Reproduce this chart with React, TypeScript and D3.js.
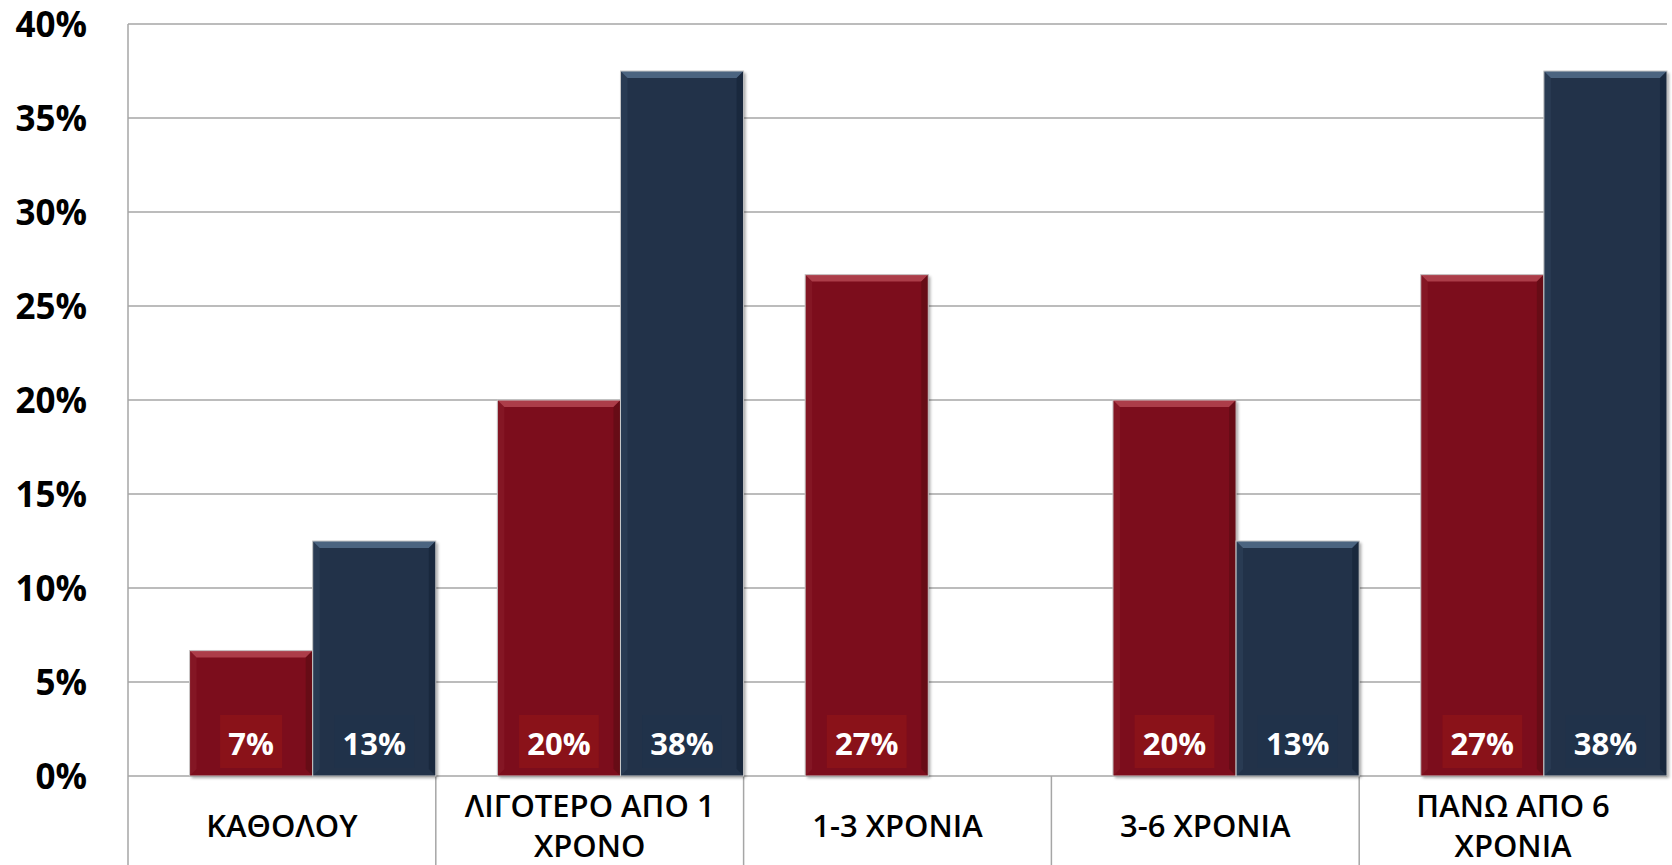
import React from "react";
import * as d3 from "d3";

const width = 1672;
const height = 865;
const margin = { top: 24, right: 5, bottom: 89, left: 128 };

const categories = [
  ["ΚΑΘΟΛΟΥ"],
  ["ΛΙΓΟΤΕΡΟ ΑΠΟ 1", "ΧΡΟΝΟ"],
  ["1-3 ΧΡΟΝΙΑ"],
  ["3-6 ΧΡΟΝΙΑ"],
  ["ΠΑΝΩ ΑΠΟ 6", "ΧΡΟΝΙΑ"],
];
const seriesA = [6.67, 20, 26.67, 20, 26.67];
const seriesB = [12.5, 37.5, null, 12.5, 37.5];
const yTicks = [0, 5, 10, 15, 20, 25, 30, 35, 40];

const series = [
  { key: "a", values: seriesA, fill: "#7c111a", labelBg: "#8a1219", light: "#b84a55", dark: "#5a0b12" },
  { key: "b", values: seriesB, fill: "#20324a", labelBg: "#20324a", light: "#56708f", dark: "#142235" },
];

const font = "'Open Sans', 'DejaVu Sans', sans-serif";

// rough glyph widths of Open Sans bold, for the label boxes
const labelWidth = (s: string, size: number) =>
  s.split("").reduce((w, c) => w + (c === "%" ? 0.88 : 0.572) * size, 0);

export default function App() {
  const catKeys = categories.map((c) => c.join(" "));
  const x0 = d3
    .scaleBand<string>()
    .domain(catKeys)
    .range([margin.left, width - margin.right]);
  const gap = x0.bandwidth() * 0.2;
  const x1 = d3
    .scaleBand<string>()
    .domain(series.map((s) => s.key))
    .range([gap, x0.bandwidth()]);
  const y = d3
    .scaleLinear()
    .domain([0, 40])
    .range([height - margin.bottom, margin.top]);

  const y0 = y(0);
  const bevel = 7;

  return (
    <svg
      width={width}
      height={height}
      style={{ position: "absolute", left: 0, top: 0, background: "#fff" }}
    >
      <defs>
        <filter id="shadow" x="-10%" y="-10%" width="130%" height="130%">
          <feDropShadow dx="2" dy="2" stdDeviation="1.5" floodColor="#000" floodOpacity="0.35" />
        </filter>
      </defs>

      {/* gridlines */}
      {yTicks.map((t) => (
        <line
          key={t}
          x1={margin.left}
          x2={width - margin.right}
          y1={y(t)}
          y2={y(t)}
          stroke="#a6a6a6"
          strokeWidth={1.5}
        />
      ))}
      <line x1={margin.left} x2={margin.left} y1={margin.top} y2={height} stroke="#a6a6a6" strokeWidth={1.5} />
      {catKeys.slice(1).map((k) => (
        <line key={k} x1={x0(k)} x2={x0(k)} y1={y0} y2={height} stroke="#a6a6a6" strokeWidth={1.5} />
      ))}

      {/* y tick labels */}
      {yTicks.map((t) => (
        <text
          key={t}
          x={87}
          y={y(t)}
          dy="0.36em"
          textAnchor="end"
          fontFamily={font}
          fontWeight={700}
          fontSize={35}
          fill="#000"
        >
          {t}%
        </text>
      ))}

      {/* bars */}
      {catKeys.map((k, i) => (
        <g key={k} transform={`translate(${x0(k)},0)`}>
          {series.map((s) => {
            const v = s.values[i];
            if (v == null) return null;
            const bx = x1(s.key)!;
            const bw = x1.bandwidth();
            const by = y(v);
            const bh = y0 - by;
            const label = `${Math.round(v)}%`;
            const lw = labelWidth(label, 31) + 17;
            return (
              <g key={s.key}>
                <rect x={bx} y={by} width={bw} height={bh} fill={s.fill} filter="url(#shadow)" />
                <polygon
                  points={`${bx},${by} ${bx + bw},${by} ${bx + bw - bevel},${by + bevel} ${bx + bevel},${by + bevel}`}
                  fill={s.light}
                  opacity={0.8}
                />
                <polygon
                  points={`${bx + bw},${by} ${bx + bw},${y0} ${bx + bw - bevel},${y0 - bevel} ${bx + bw - bevel},${by + bevel}`}
                  fill={s.dark}
                  opacity={0.6}
                />
                <polygon
                  points={`${bx},${by} ${bx + bevel},${by + bevel} ${bx + bevel},${y0 - bevel} ${bx},${y0}`}
                  fill={s.light}
                  opacity={0.15}
                />
                <rect x={bx} y={by} width={bw} height={bh} fill="none" stroke="#c8c8c8" strokeWidth={1} />
                <rect
                  x={bx + bw / 2 - lw / 2}
                  y={y0 - 61}
                  width={lw}
                  height={53}
                  fill={s.labelBg}
                />
                <text
                  x={bx + bw / 2}
                  y={y0 - 21}
                  textAnchor="middle"
                  fontFamily={font}
                  fontWeight={700}
                  fontSize={31}
                  fill="#fff"
                >
                  {label}
                </text>
              </g>
            );
          })}
        </g>
      ))}

      {/* x labels */}
      {categories.map((lines, i) => {
        const k = catKeys[i];
        const cx = x0(k)! + x0.bandwidth() / 2;
        const startY = lines.length === 1 ? 826 : 806;
        return (
          <text
            key={k}
            textAnchor="middle"
            fontFamily={font}
            fontWeight={600}
            fontSize={31}
            fill="#000"
          >
            {lines.map((l, j) => (
              <tspan key={j} x={cx} y={startY + j * 40} dy="0.36em">
                {l}
              </tspan>
            ))}
          </text>
        );
      })}
    </svg>
  );
}
